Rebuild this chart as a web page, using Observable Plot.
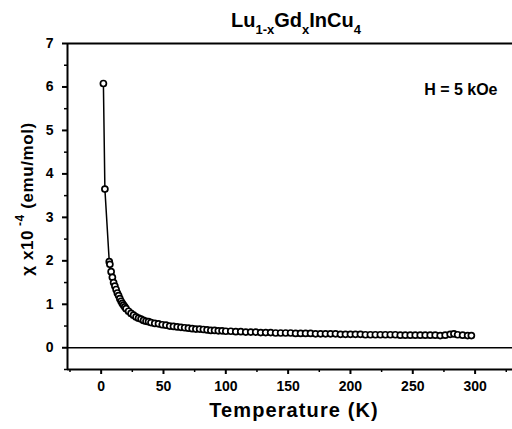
<!DOCTYPE html>
<html>
<head>
<meta charset="utf-8">
<script src="https://cdn.jsdelivr.net/npm/d3@7"></script>
<script src="https://cdn.jsdelivr.net/npm/@observablehq/plot@0.6"></script>
<style>
  html, body { margin: 0; padding: 0; background: #fff; }
  svg { display: block; }
</style>
</head>
<body>
<div id="chart"></div>
<script>
// Temperature (K)
const temps = [1.8, 3, 6.5, 7, 8, 9, 10, 11, 12, 13, 14, 15, 16, 17, 18, 19, 20, 22, 24, 26, 28, 30, 32, 34, 36, 38, 40, 43, 46, 49, 52, 55, 58, 61, 64, 67, 70, 73, 76, 79, 82, 85, 88, 91, 94, 97, 100, 104, 108, 112, 116, 120, 124, 128, 132, 136, 140, 144, 148, 152, 156, 160, 164, 168, 172, 176, 180, 184, 188, 192, 196, 200, 204, 208, 212, 216, 220, 224, 228, 232, 236, 240, 244, 248, 252, 256, 260, 264, 268, 272, 276, 280, 283, 286, 290, 294, 297];
// chi x 10^-4 (emu/mol)
const chi = [6.08, 3.65, 1.98, 1.92, 1.75, 1.62, 1.50, 1.42, 1.34, 1.26, 1.20, 1.13, 1.07, 1.02, 0.98, 0.94, 0.90, 0.84, 0.79, 0.75, 0.71, 0.68, 0.66, 0.63, 0.61, 0.60, 0.58, 0.56, 0.55, 0.53, 0.52, 0.50, 0.49, 0.48, 0.47, 0.46, 0.45, 0.44, 0.43, 0.43, 0.42, 0.41, 0.40, 0.40, 0.39, 0.39, 0.38, 0.38, 0.37, 0.37, 0.36, 0.36, 0.36, 0.35, 0.35, 0.35, 0.34, 0.34, 0.34, 0.34, 0.33, 0.33, 0.33, 0.33, 0.32, 0.32, 0.32, 0.32, 0.32, 0.31, 0.31, 0.31, 0.31, 0.31, 0.30, 0.30, 0.30, 0.30, 0.30, 0.30, 0.30, 0.29, 0.29, 0.29, 0.29, 0.29, 0.29, 0.29, 0.29, 0.28, 0.29, 0.31, 0.32, 0.30, 0.29, 0.28, 0.28];

const xMajor = [0, 50, 100, 150, 200, 250, 300];
const xMinor = [-25, 25, 75, 125, 175, 225, 275, 325];
const yMajor = [0, 1, 2, 3, 4, 5, 6, 7];
const yMinor = [-0.5, 0.5, 1.5, 2.5, 3.5, 4.5, 5.5, 6.5];
const xDomain = [-27, 330];
const yDomain = [-0.5, 7];
const fieldLabel = ["H = 5 kOe"];

const data = temps.map((t, i) => ({T: t, chi: chi[i]}));

const font = "'Liberation Sans', Arial, sans-serif";

const chart = Plot.plot({
  width: 512,
  height: 429,
  marginTop: 43,
  marginBottom: 60,
  marginLeft: 67,
  marginRight: 0,
  style: {fontFamily: font, fontWeight: "bold", fontSize: "14px", background: "#fff", color: "#000"},
  x: {domain: xDomain},
  y: {domain: yDomain},
  marks: [
    Plot.axisX({ticks: xMinor, tickSize: 3, tickFormat: () => "", label: null, strokeWidth: 1.5}),
    Plot.axisX({ticks: xMajor, tickSize: 5, tickPadding: 7, label: null, strokeWidth: 2, fontSize: 14, fontWeight: "bold", letterSpacing: "1px"}),
    Plot.axisY({ticks: yMinor, tickSize: 3, tickFormat: () => "", label: null, strokeWidth: 1.5}),
    Plot.axisY({ticks: yMajor, tickSize: 5, tickPadding: 9, label: null, strokeWidth: 2, fontSize: 14, fontWeight: "bold"}),
    Plot.ruleY([yDomain[1]], {stroke: "#000", strokeWidth: 2}),
    Plot.ruleY([yDomain[0]], {stroke: "#000", strokeWidth: 2}),
    Plot.ruleY([0], {stroke: "#000", strokeWidth: 1.6}),
    Plot.ruleX([xDomain[0]], {stroke: "#000", strokeWidth: 2}),
    Plot.line(data, {x: "T", y: "chi", stroke: "#000", strokeWidth: 1.5}),
    Plot.dot(data, {x: "T", y: "chi", r: 3, stroke: "#000", strokeWidth: 1.7, fill: "#fff"}),
    Plot.text(fieldLabel, {text: d => d, frameAnchor: "top-right", dx: -15, dy: 40, textAnchor: "end", fontSize: 16, fontWeight: "bold", letterSpacing: "0.8px"})
  ]
});

const svg = d3.select(chart);

// Title with subscripts
const title = svg.append("text")
  .attr("x", 296).attr("y", 27)
  .attr("text-anchor", "middle")
  .attr("font-family", font).attr("font-weight", "bold")
  .attr("font-size", 20).attr("fill", "#000");
title.append("tspan").text("Lu");
title.append("tspan").attr("font-size", 13).attr("dy", 7).text("1-x");
title.append("tspan").attr("dy", -7).text("Gd");
title.append("tspan").attr("font-size", 13).attr("dy", 7).text("x");
title.append("tspan").attr("dy", -7).text("InCu");
title.append("tspan").attr("font-size", 13).attr("dy", 7).text("4");

// X axis label
svg.append("text")
  .attr("x", 294).attr("y", 417)
  .attr("text-anchor", "middle")
  .attr("font-family", font).attr("font-weight", "bold")
  .attr("font-size", 20).attr("letter-spacing", "1.1px").attr("fill", "#000")
  .text("Temperature (K)");

// Y axis label with superscript
const ylab = svg.append("text")
  .attr("transform", "translate(33,199) rotate(-90)")
  .attr("text-anchor", "middle")
  .attr("font-family", font).attr("font-weight", "bold")
  .attr("font-size", 17).attr("letter-spacing", "0.6px").attr("fill", "#000");
ylab.append("tspan").text("χ x10");
ylab.append("tspan").attr("font-size", 12).attr("dy", -9).text(" -4");
ylab.append("tspan").attr("dy", 9).text(" (emu/mol)");

document.getElementById("chart").appendChild(chart);
</script>
</body>
</html>
